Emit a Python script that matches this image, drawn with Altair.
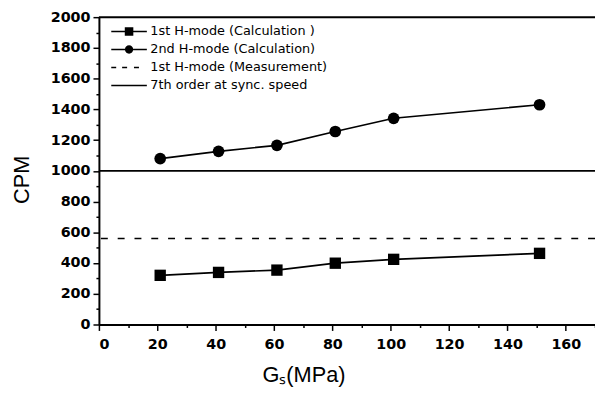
import altair as alt
import pandas as pd

# ---- data ----
gs_values = [21, 41, 61, 81, 101, 151]
h1_calc = [320, 339, 354, 399, 424, 463]
h2_calc = [1080, 1127, 1166, 1256, 1342, 1430]
h1_measured = [560]
order7_sync = [1000]
series_names = [
    "1st H-mode (Calculation )",
    "2nd H-mode (Calculation)",
    "1st H-mode  (Measurement)",
    "7th order at sync. speed",
]
x_domain = [0, 170]
y_domain = [0, 2000]
y_tick_values = list(range(0, 2001, 100))
x_tick_values = list(range(0, 171, 10))

# ---- tables ----
df_h1 = pd.DataFrame({"Gs": gs_values, "CPM": h1_calc, "series": series_names[0]})
df_h2 = pd.DataFrame({"Gs": gs_values, "CPM": h2_calc, "series": series_names[1]})
df_meas = pd.DataFrame({"CPM": h1_measured})
df_sync = pd.DataFrame({"CPM": order7_sync})
df_top = pd.DataFrame({"CPM": [y_domain[1]]})
df_legend = pd.DataFrame({"series": series_names})

# legend glyphs (line + marker), drawn as filled outlines
legend_paths = [
    "M-3,-0.13H3V0.13H-3ZM-0.72,-0.72H0.72V0.72H-0.72Z",
    "M-3,-0.13H3V0.13H-3ZM0.7,0A0.7,0.7,0,1,1,-0.7,0A0.7,0.7,0,1,1,0.7,0Z",
    "M-3,-0.12H-2.17V0.12H-3ZM-1.17,-0.12H-0.33V0.12H-1.17ZM0.83,-0.12H1.67V0.12H0.83Z",
    "M-3,-0.13H3V0.13H-3Z",
]

x_enc = alt.X(
    "Gs:Q",
    scale=alt.Scale(domain=x_domain, nice=False, zero=False),
    axis=alt.Axis(
        values=x_tick_values,
        format="d",
        labelExpr="datum.value % 20 === 0 ? datum.label : ''",
        tickSize={"condition": {"test": "datum.value % 20 === 0", "value": 6}, "value": 3},
        labelOverlap=False,
        title="Gₛ(MPa)",
        titleX=207,
        titleY=51,
        titleAlign="center",
        titleBaseline="middle",
        labelPadding=7,
        grid=False,
    ),
)
y_enc = alt.Y(
    "CPM:Q",
    scale=alt.Scale(domain=y_domain, nice=False),
    axis=alt.Axis(
        values=y_tick_values,
        format="d",
        labelExpr="datum.value % 200 === 0 ? datum.label : ''",
        tickSize={"condition": {"test": "datum.value % 200 === 0", "value": 6}, "value": 3},
        labelOverlap=False,
        title="CPM",
        titleX=-78,
        titleY=164,
        titleAlign="center",
        titleBaseline="middle",
        labelPadding=3,
        grid=False,
    ),
)

lines = alt.Chart(pd.concat([df_h1, df_h2])).mark_line(
    color="black", strokeWidth=1.7
).encode(x=x_enc, y=y_enc, detail="series:N")

squares = alt.Chart(df_h1).mark_point(
    shape="square", filled=True, size=132, color="black", opacity=1
).encode(x=x_enc, y=y_enc)

circles = alt.Chart(df_h2).mark_circle(
    size=140, color="black", opacity=1
).encode(x=x_enc, y=y_enc)

meas_rule = alt.Chart(df_meas).mark_rule(
    color="black", strokeWidth=1.5, strokeDash=[7, 10]
).encode(y=y_enc)

sync_rule = alt.Chart(df_sync).mark_rule(
    color="black", strokeWidth=1.8
).encode(y=y_enc)

top_frame = alt.Chart(df_top).mark_rule(
    color="black", strokeWidth=2
).encode(y=y_enc)

legend_layer = alt.Chart(df_legend).mark_point(
    filled=False, fill="black", stroke="black", strokeWidth=0, size=0, opacity=1
).encode(
    shape=alt.Shape(
        "series:N",
        scale=alt.Scale(domain=series_names, range=legend_paths),
        legend=alt.Legend(
            title=None,
            orient="none",
            legendX=24,
            legendY=8,
            padding=0,
            symbolSize=144,
            symbolStrokeWidth=0,
            symbolFillColor="black",
            symbolOpacity=1,
            labelOffset=15,
            rowPadding=4.2,
            labelFont="DejaVu Sans",
            labelFontSize=13,
            labelColor="black",
            labelLimit=0,
        ),
    )
)

chart = alt.layer(
    sync_rule, meas_rule, top_frame, lines, squares, circles, legend_layer
).properties(
    width=502,
    height=311,
    autosize=alt.AutoSizeParams(type="none"),
    padding={"left": 92, "top": 7, "right": 0, "bottom": 64},
).configure_view(
    stroke=None
).configure_axis(
    domainColor="black",
    domainWidth=2,
    tickColor="black",
    tickWidth=1.5,
    labelFont="DejaVu Sans",
    labelFontWeight="bold",
    labelFontSize=14.5,
    labelColor="black",
    titleFont="Liberation Sans",
    titleFontWeight="normal",
    titleFontSize=22,
    titleColor="black",
)

chart.save("out.html", embed_options={"renderer": "svg", "actions": False})
